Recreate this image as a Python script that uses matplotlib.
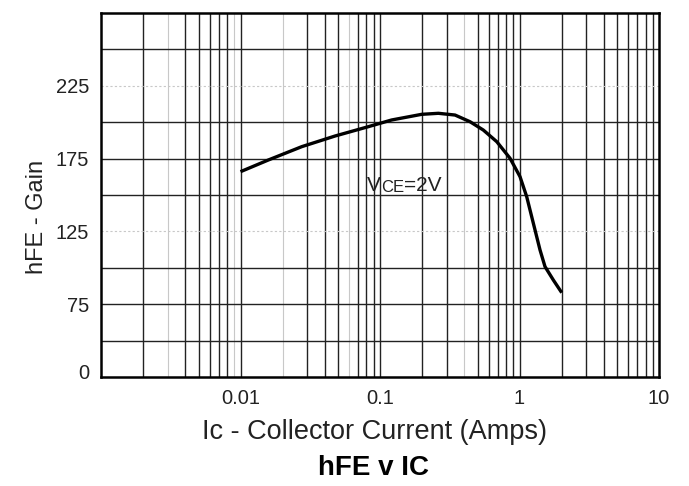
import numpy as np
import matplotlib.pyplot as plt

plt.rcParams['font.family'] = ['Liberation Sans', 'DejaVu Sans']

# hFE vs collector current, VCE = 2V
ic_amps = [0.01, 0.0158, 0.0275, 0.0476, 0.0824, 0.121, 0.199, 0.262,
           0.345, 0.442, 0.550, 0.687, 0.855, 1.008, 1.126, 1.256,
           1.403, 1.523, 1.747, 2.007]
hfe = [166.0, 174.0, 183.2, 190.5, 196.9, 201.5, 205.4, 206.1,
       204.9, 200.3, 194.6, 186.6, 175.2, 162.6, 148.8, 130.6,
       112.2, 100.8, 91.6, 82.9]

x_ticks = [0.01, 0.1, 1, 10]
x_tick_labels = ["0.01", "0.1", "1", "10"]
y_ticks = [28.5, 75, 125, 175, 225]
y_tick_labels = ["0", "75", "125", "175", "225"]

fig = plt.figure(figsize=(6.89, 4.86), dpi=100)
ax = fig.add_axes([0.1466, 0.2243, 0.8099, 0.749])
ax.set_xscale("log")
ax.set_xlim(0.001, 10)
ax.set_ylim(25, 275)

# log grid; a few lines are barely visible on the scan
faint_x = [0.003, 0.009, 0.02, 0.06, 0.4]
for d in [0.001, 0.01, 0.1, 1]:
    for k in range(1, 10):
        xv = k * d
        if xv <= 0.001:
            continue
        if any(np.isclose(xv, f) for f in faint_x):
            ax.axvline(xv, color="#c8c8c8", lw=0.8, zorder=1)
        else:
            ax.axvline(xv, color="#222222", lw=1.0, zorder=1)
for yv in np.arange(50, 275, 25):
    if yv in (125, 225):
        ax.axhline(yv, color="#c8c8c8", lw=0.8, ls=(0, (2, 2)), zorder=1)
    else:
        ax.axhline(yv, color="#222222", lw=1.0, zorder=1)

ax.plot(ic_amps, hfe, color="black", lw=2.4, zorder=3,
        solid_capstyle="butt", solid_joinstyle="round")

ax.set_xticks(x_ticks)
ax.set_xticklabels(x_tick_labels)
ax.minorticks_off()
ax.set_yticks(y_ticks)
ax.set_yticklabels(y_tick_labels)
ax.tick_params(axis="x", length=0, pad=9, labelsize=14.5, colors="#222222")
ax.tick_params(axis="y", length=0, pad=8.5, labelsize=14.5, colors="#222222")
for s in ax.spines.values():
    s.set_linewidth(1.8)
    s.set_color("black")

ax.set_ylabel("hFE - Gain", fontsize=17, color="#222222")
ax.yaxis.set_label_coords(-0.095, 0.44)

# VCE=2V with small-cap subscript letters
t1 = ax.text(0.0807, 153, "V", fontsize=15, va="baseline", color="#222222")
t2 = ax.annotate("CE", xy=(1, 0), xycoords=t1, fontsize=12,
                 va="bottom", ha="left", color="#222222")
ax.annotate("=2V", xy=(1, 0), xycoords=t2, fontsize=15,
            va="bottom", ha="left", color="#222222")

fig.text(374 / 689, 1 - 439 / 486, "Ic - Collector Current (Amps)",
         fontsize=19.5, ha="center", va="baseline", color="#222222")
fig.text(374 / 689, 1 - 475 / 486, "hFE v IC", fontsize=20,
         fontweight="bold", ha="center", va="baseline", color="black")

fig.savefig("out.png", dpi=100)
